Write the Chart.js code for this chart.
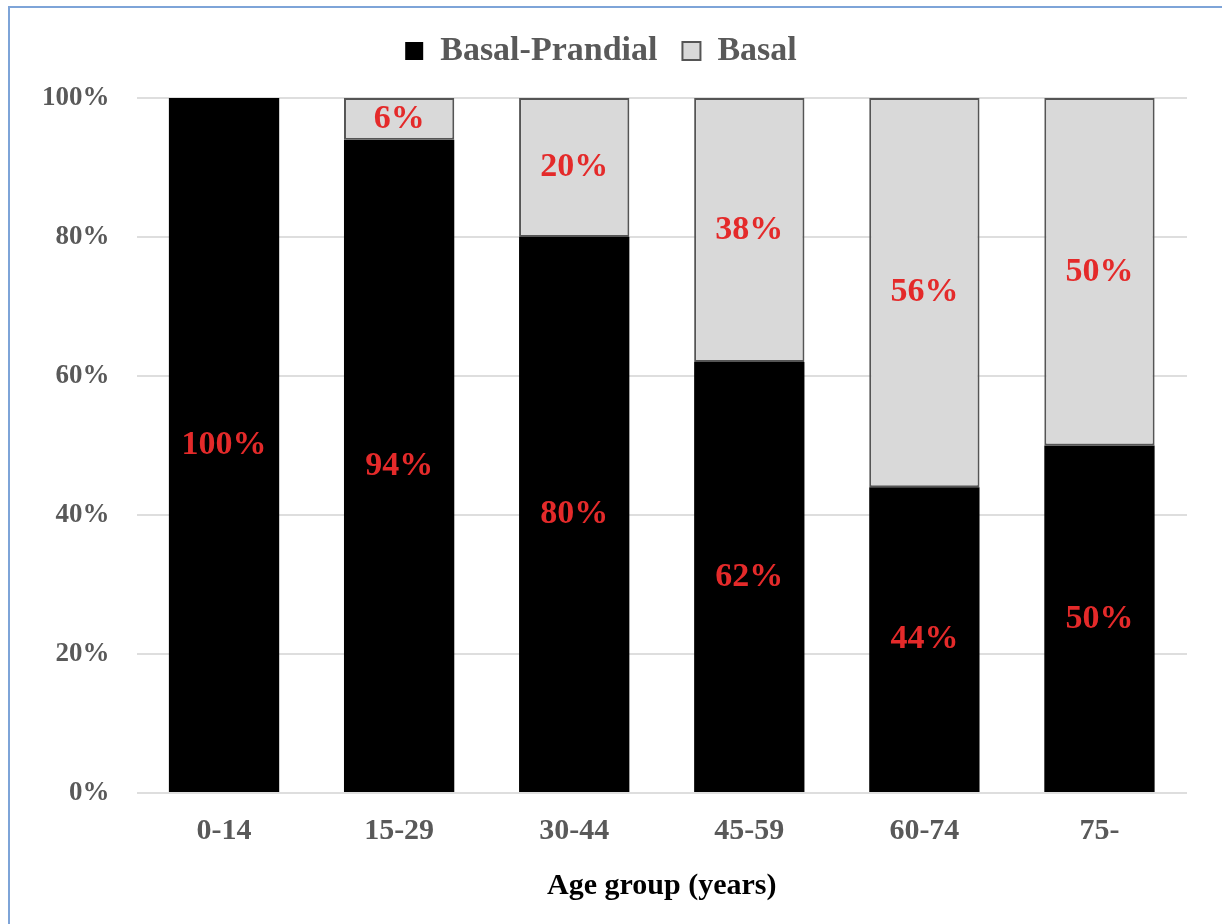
<!DOCTYPE html>
<html>
<head>
<meta charset="utf-8">
<title>Insulin regimen by age group</title>
<script src="https://cdn.jsdelivr.net/npm/chart.js@4/dist/chart.umd.min.js"></script>
<style>
    html, body { margin: 0; padding: 0; background: #fff; }
    #wrap { position: relative; width: 1222px; height: 924px; overflow: hidden; }
    #frame {
        position: absolute; left: 8px; top: 6px; right: -10px; bottom: -10px;
        border-left: 2px solid #7ea4d8; border-top: 2px solid #7ea4d8;
        pointer-events: none;
    }
    canvas { position: absolute; left: 0; top: 0; }
</style>
</head>
<body>
<div id="wrap">
    <canvas id="regimenChart" width="1222" height="924"></canvas>
    <div id="frame"></div>
</div>
<script>
const ageGroups = ["0-14", "15-29", "30-44", "45-59", "60-74", "75-"];
const basalPrandial = [100, 94, 80, 62, 44, 50];
const basal = [0, 6, 20, 38, 56, 50];
const yTicks = [0, 20, 40, 60, 80, 100];

const serif = "'Liberation Serif', 'Times New Roman', serif";
const labelRed = "#e42a2a";
const tickGray = "#595959";

// writes the percentage in the middle of each stacked segment
const segmentLabels = {
    id: "segmentLabels",
    afterDatasetsDraw(chart) {
        const ctx = chart.ctx;
        ctx.save();
        ctx.font = "bold 34px " + serif;
        ctx.fillStyle = labelRed;
        ctx.textAlign = "center";
        ctx.textBaseline = "middle";
        chart.data.datasets.forEach((ds, di) => {
            const meta = chart.getDatasetMeta(di);
            meta.data.forEach((bar, i) => {
                const v = ds.data[i];
                if (!v) return;
                const c = bar.getCenterPoint();
                ctx.fillText(v + "%", c.x, c.y);
            });
        });
        ctx.restore();
    },
};

const canvas = document.getElementById("regimenChart");
const regimenChart = new Chart(canvas.getContext("2d"), {
    type: "bar",
    data: {
        labels: ageGroups,
        datasets: [
            {
                label: "Basal-Prandial",
                data: basalPrandial,
                backgroundColor: "#000000",
                borderWidth: 0,
            },
            {
                label: "Basal",
                data: basal,
                backgroundColor: "#d9d9d9",
                borderColor: "#555555",
                borderWidth: 2,
                borderSkipped: false,
            },
        ],
    },
    options: {
        responsive: false,
        animation: false,
        layout: { padding: { top: 9, right: 35, bottom: 20, left: 15 } },
        datasets: {
            bar: { categoryPercentage: 1, barPercentage: 0.63 },
        },
        plugins: {
            legend: {
                position: "top",
                labels: {
                    boxWidth: 18,
                    boxHeight: 18,
                    padding: 25,
                    color: tickGray,
                    font: { family: serif, size: 34, weight: "bold" },
                },
            },
            // empty spacer between legend and plot
            title: {
                display: true,
                text: "",
                weight: 500,
                font: { size: 4, lineHeight: 1 },
                padding: { top: 0, bottom: 16 },
            },
            tooltip: { enabled: false },
        },
        scales: {
            x: {
                stacked: true,
                grid: { display: false },
                border: { display: false },
                ticks: {
                    color: tickGray,
                    padding: 12,
                    font: { family: serif, size: 30, weight: "bold" },
                },
                title: {
                    display: true,
                    text: "Age group (years)",
                    color: "#000000",
                    padding: { top: 7, bottom: 0 },
                    font: { family: serif, size: 30, weight: "bold" },
                },
            },
            y: {
                stacked: true,
                min: 0,
                max: 100,
                afterBuildTicks(scale) {
                    scale.ticks = yTicks.map((v) => ({ value: v }));
                },
                grid: { color: "#dedede", lineWidth: 2, drawTicks: false },
                border: { display: false },
                ticks: {
                    color: tickGray,
                    padding: 27,
                    font: { family: serif, size: 27, weight: "bold" },
                    callback: (v) => v + "%",
                },
            },
        },
    },
    plugins: [segmentLabels],
});
</script>
</body>
</html>
